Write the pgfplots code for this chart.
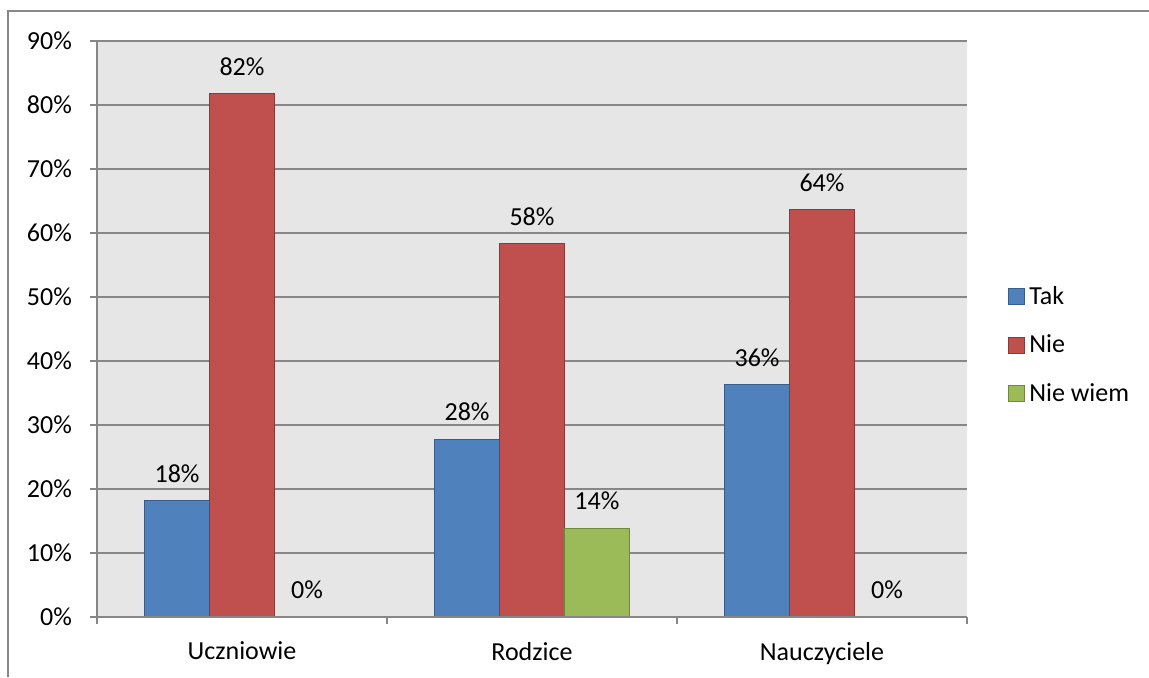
\documentclass[border=0pt]{standalone}
\usepackage{pgfplots}
\pgfplotsset{compat=1.18}
\usepackage{fontspec}
\setmainfont{Carlito}

\definecolor{tak}{HTML}{4F81BD}
\definecolor{takd}{HTML}{385D8A}
\definecolor{nie}{HTML}{C0504D}
\definecolor{nied}{HTML}{8C3836}
\definecolor{niew}{HTML}{9BBB59}
\definecolor{niewd}{HTML}{71893F}
\definecolor{bgc}{HTML}{E6E6E6}
\definecolor{gridc}{HTML}{878787}

\pgfplotsset{
  sqlegend/.style={legend image code/.code={\draw[##1] (0pt,-4pt) rectangle (8pt,4pt);}},
}

\begin{document}
\begin{tikzpicture}
\useasboundingbox (-48.5pt,-30pt) rectangle (526pt,308.5pt);
\draw[gridc, line width=0.75pt] (-44.5pt,-30pt) -- (-44.5pt,303pt) -- (526pt,303pt);
\begin{axis}[
    at={(0,0)}, anchor=south west,
    scale only axis, width=435pt, height=288pt,
    font=\fontsize{13}{15.5}\selectfont,
    /pgf/number format/assume math mode=true,
    xmin=-0.5, xmax=2.5, ymin=0, ymax=90,
    axis background/.style={fill=bgc},
    axis x line*=bottom, axis y line*=left,
    axis line style={gridc, line width=0.6pt},
    tick align=outside,
    major tick length=3.5pt,
    tick style={gridc, line width=0.6pt},
    ytick={0,10,...,90},
    yticklabels={0\%,10\%,20\%,30\%,40\%,50\%,60\%,70\%,80\%,90\%},
    tick label style={font=\fontsize{13}{15.5}\selectfont},
    yticklabel style={xshift=-5.5pt},
    ymajorgrids, grid style={gridc, line width=0.6pt},
    xtick={-0.5,0.5,1.5,2.5}, xticklabels={},
    extra x ticks={0,1,2},
    extra x tick labels={Uczniowie,Rodzice,Nauczyciele},
    extra x tick style={major tick length=0pt, grid=none},
    xticklabel style={yshift=-9pt},
    nodes near coords={\pgfmathprintnumber[fixed,precision=0]{\pgfplotspointmeta}\%},
    every node near coord/.append style={anchor=center, yshift=13.5pt, text=black},
    legend style={at={(1.047,0.472)}, anchor=west, draw=none, fill=none,
      inner sep=0pt, row sep=9.8pt, font=\fontsize{13}{15.5}\selectfont},
    legend cell align=left,
]
\addplot[ybar, bar width=0.224, bar shift=-0.224, fill=tak, draw=takd, line width=0.5pt, sqlegend,
  every node near coord/.append style={xshift=-32.48pt}]
  coordinates {(0,18.18) (1,27.78) (2,36.36)};
\addplot[ybar, bar width=0.224, bar shift=0, fill=nie, draw=nied, line width=0.5pt, sqlegend]
  coordinates {(0,81.82) (1,58.33) (2,63.64)};
\addplot[ybar, bar width=0.224, bar shift=0.224, fill=niew, draw=niewd, line width=0.5pt, sqlegend,
  every node near coord/.append style={xshift=32.48pt}]
  coordinates {(0,0) (1,13.89) (2,0)};
\legend{Tak,Nie,Nie wiem}
\draw[gridc, line width=0.7pt] (rel axis cs:0,0) -- (rel axis cs:1,0);
\end{axis}
\end{tikzpicture}
\end{document}
